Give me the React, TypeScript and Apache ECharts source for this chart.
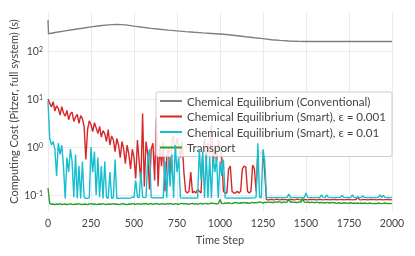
import React, { useEffect, useRef } from "react";
import * as echarts from "echarts";

const STEP = 10;
const yTickLabels: Record<string, string> = { "0.1": "-1", "1": "0", "10": "1", "100": "2" };

const seriesNames = [
  "Chemical Equilibrium (Conventional)",
  "Chemical Equilibrium (Smart), ε = 0.001",
  "Chemical Equilibrium (Smart), ε = 0.01",
  "Transport",
];
const colors = ["#7f7f7f", "#d62728", "#17becf", "#2ca02c"];

const conventional: [number, number][] = [
  [0, 443], [3, 229], [50, 245], [100, 262], [150, 280], [200, 298], [250, 318], [300, 335],
  [350, 350], [400, 358], [450, 350], [500, 330], [550, 312], [600, 296], [650, 283], [700, 272],
  [750, 262], [800, 253], [850, 245], [900, 238], [950, 232], [1000, 226], [1050, 218], [1100, 208],
  [1150, 198], [1200, 189], [1250, 181], [1300, 172], [1350, 166], [1400, 161], [1450, 159], [1500, 158],
  [1550, 158], [1600, 158], [1650, 158], [1700, 158], [1750, 158], [1800, 158], [1850, 158], [1900, 158],
  [1950, 158], [2000, 158],
];

const smart001 = [
  10, 8.2, 6.8, 8.8, 5.6, 7.2, 6.4, 4.6, 6.9, 5.1,
  4.4, 5.8, 3.7, 4.9, 5.3, 3.4, 4.2, 4.8, 3.1, 4.5,
  3.9, 2.7, 0.55, 2.3, 3.5, 2.9, 2.1, 3.2, 2.5, 1.9,
  2.7, 1.6, 2.2, 1.9, 1.3, 2.3, 1.1, 1.7, 1.4, 0.8,
  1.5, 1.1, 0.6, 1.3, 0.9, 0.45, 1.1, 0.7, 0.35, 0.9,
  0.6, 0.22, 1.4, 0.5, 0.18, 5.0, 0.15, 1.3, 0.7, 0.13,
  0.9, 1.2, 0.2, 4.0, 0.15, 1.1, 0.4, 1.3, 0.12, 0.6,
  1.0, 0.2, 1.4, 1.7, 0.7, 1.5, 1.1, 0.6, 1.3, 0.3,
  0.12, 0.11, 0.12, 0.3, 0.11, 0.12, 0.11, 0.13, 0.12, 0.11,
  0.9, 1.5, 0.5, 1.2, 0.6, 3.2, 0.4, 1.1, 0.5, 1.4,
  0.9, 0.6, 0.12, 0.11, 0.11, 0.35, 0.4, 0.12, 0.11, 0.11,
  0.12, 0.11, 0.12, 0.35, 0.4, 0.38, 0.12, 0.11, 0.12, 0.42,
  0.35, 0.12, 0.75, 0.85, 0.7, 0.85, 0.3, 0.08, 0.079, 0.08,
  0.081, 0.079, 0.08, 0.082, 0.08, 0.079, 0.081, 0.08, 0.08, 0.079,
  0.08, 0.081, 0.08, 0.079, 0.08, 0.082, 0.08, 0.079, 0.08, 0.081,
  0.08, 0.079, 0.08, 0.081, 0.08, 0.08, 0.079, 0.08, 0.081, 0.08,
  0.079, 0.08, 0.081, 0.08, 0.079, 0.08, 0.08, 0.081, 0.079, 0.08,
  0.08, 0.081, 0.079, 0.08, 0.08, 0.081, 0.08, 0.079, 0.08, 0.08,
  0.092, 0.08, 0.079, 0.081, 0.08, 0.08, 0.079, 0.08, 0.081, 0.08,
  0.08, 0.079, 0.08, 0.081, 0.08, 0.079, 0.08, 0.08, 0.081, 0.079,
  0.08,
];

const smart01 = [
  9, 1.5, 1.1, 1.3, 0.9, 0.25, 1.2, 0.7, 1.1, 0.4,
  0.085, 0.6, 0.3, 0.9, 0.5, 0.09, 0.7, 0.085, 0.4, 0.085,
  0.5, 0.09, 0.085, 0.085, 0.087, 1.0, 0.3, 0.8, 0.1, 0.6,
  0.09, 0.4, 0.085, 0.5, 0.09, 0.085, 0.3, 0.085, 0.087, 0.55,
  0.085, 0.086, 0.085, 0.087, 0.085, 0.086, 0.087, 0.085, 0.086, 0.09,
  0.09, 0.2, 0.09, 0.088, 0.3, 0.09, 0.088, 0.09, 0.6, 0.9,
  0.088, 0.087, 0.088, 0.087, 0.088, 0.087, 0.088, 0.087, 0.5, 0.088,
  0.6, 0.15, 0.7, 0.087, 1.1, 0.3, 0.6, 0.087, 0.086, 0.087,
  0.086, 0.087, 0.086, 0.087, 0.086, 0.087, 0.086, 0.087, 0.9, 0.2,
  0.8, 0.087, 0.7, 0.087, 0.6, 0.087, 0.65, 0.3, 0.6, 0.087,
  0.5, 0.25, 0.55, 0.087, 0.086, 0.087, 0.086, 0.087, 0.086, 0.087,
  0.086, 0.087, 0.086, 0.087, 0.086, 0.087, 0.086, 0.087, 0.086, 0.087,
  0.087, 0.09, 1.2, 0.09, 0.087, 0.9, 0.5, 0.09, 0.089, 0.088,
  0.089, 0.088, 0.089, 0.088, 0.089, 0.088, 0.089, 0.088, 0.089, 0.088,
  0.105, 0.089, 0.088, 0.089, 0.088, 0.089, 0.088, 0.089, 0.088, 0.089,
  0.11, 0.089, 0.088, 0.089, 0.088, 0.089, 0.088, 0.089, 0.088, 0.1,
  0.089, 0.088, 0.1, 0.089, 0.088, 0.089, 0.088, 0.089, 0.088, 0.089,
  0.089, 0.098, 0.089, 0.088, 0.089, 0.088, 0.089, 0.1, 0.089, 0.088,
  0.089, 0.088, 0.089, 0.095, 0.089, 0.088, 0.089, 0.088, 0.089, 0.088,
  0.089, 0.088, 0.089, 0.1, 0.089, 0.098, 0.089, 0.088, 0.089, 0.088,
  0.089,
];

const transport = [
  0.14, 0.066, 0.064, 0.065, 0.063, 0.065, 0.064, 0.066, 0.063, 0.064,
  0.065, 0.063, 0.064, 0.066, 0.064, 0.063, 0.065, 0.064, 0.066, 0.064,
  0.063, 0.065, 0.064, 0.063, 0.065, 0.066, 0.064, 0.065, 0.063, 0.064,
  0.065, 0.064, 0.066, 0.064, 0.063, 0.065, 0.064, 0.065, 0.066, 0.064,
  0.065, 0.063, 0.064, 0.066, 0.065, 0.064, 0.063, 0.065, 0.064, 0.066,
  0.065, 0.064, 0.066, 0.065, 0.064, 0.066, 0.065, 0.067, 0.064, 0.065,
  0.066, 0.064, 0.065, 0.067, 0.065, 0.064, 0.066, 0.065, 0.064, 0.066,
  0.065, 0.067, 0.065, 0.064, 0.066, 0.065, 0.064, 0.066, 0.067, 0.065,
  0.066, 0.065, 0.064, 0.066, 0.067, 0.065, 0.066, 0.064, 0.066, 0.067,
  0.065, 0.066, 0.067, 0.065, 0.066, 0.068, 0.066, 0.067, 0.065, 0.066,
  0.08, 0.067, 0.066, 0.068, 0.067, 0.069, 0.067, 0.066, 0.068, 0.07,
  0.068, 0.067, 0.069, 0.068, 0.07, 0.068, 0.069, 0.067, 0.069, 0.07,
  0.068, 0.07, 0.069, 0.072, 0.07, 0.068, 0.071, 0.069, 0.072, 0.07,
  0.071, 0.069, 0.072, 0.07, 0.073, 0.071, 0.069, 0.072, 0.07, 0.071,
  0.082, 0.07, 0.072, 0.07, 0.071, 0.069, 0.072, 0.07, 0.085, 0.071,
  0.07, 0.072, 0.069, 0.071, 0.07, 0.069, 0.071, 0.07, 0.068, 0.07,
  0.069, 0.068, 0.07, 0.069, 0.068, 0.07, 0.069, 0.068, 0.067, 0.069,
  0.068, 0.067, 0.069, 0.068, 0.067, 0.068, 0.069, 0.067, 0.068, 0.067,
  0.068, 0.067, 0.068, 0.066, 0.068, 0.067, 0.066, 0.068, 0.067, 0.066,
  0.067, 0.066, 0.068, 0.067, 0.066, 0.067, 0.068, 0.066, 0.067, 0.066,
  0.067,
];

const toPairs = (vals: number[]) => vals.map((v, i) => [i * STEP, v]);

const FONT = "Lato";
const TEXT = "#444";

export default function App() {
  const ref = useRef<HTMLDivElement>(null);
  useEffect(() => {
    if (!ref.current) return;
    const chart = echarts.init(ref.current, undefined, { renderer: "svg" });
    const data = [conventional, toPairs(smart001), toPairs(smart01), toPairs(transport)];
    chart.setOption({
      animation: false,
      textStyle: { fontFamily: FONT, color: TEXT },
      grid: { left: 48, right: 23, top: 12, bottom: 45, outerBoundsMode: "none", containLabel: false },
      legend: {
        orient: "vertical",
        left: 156,
        top: 92,
        align: "left",
        icon: "rect",
        itemWidth: 22,
        itemHeight: 2,
        itemGap: 3.5,
        padding: [3, 6, 3, 4],
        backgroundColor: "rgba(255,255,255,0.85)",
        borderColor: "#cccccc",
        borderWidth: 1,
        borderRadius: 2,
        textStyle: { fontFamily: FONT, fontSize: 11.6, color: TEXT, lineHeight: 12 },
        data: seriesNames,
      },
      xAxis: {
        type: "value",
        min: 0,
        max: 2000,
        interval: 250,
        name: "Time Step",
        nameLocation: "middle",
        nameGap: 23,
        nameMoveOverlap: false,
        nameTextStyle: { fontFamily: FONT, fontSize: 11, color: TEXT },
        axisLine: { show: false },
        axisTick: { show: false },
        axisLabel: {
          fontFamily: FONT,
          fontSize: 10.5,
          color: TEXT,
          margin: 6,
          formatter: (v: number) => String(v),
        },
        splitLine: { show: true, lineStyle: { color: "#ebebeb", width: 1 } },
      },
      yAxis: {
        type: "log",
        logBase: 10,
        min: 0.0464,
        max: 649,
        name: "Computing Cost (Pitzer, full system) (s)",
        nameLocation: "middle",
        nameGap: 29,
        nameMoveOverlap: false,
        nameTextStyle: { fontFamily: FONT, fontSize: 11, color: TEXT },
        axisLine: { show: false },
        axisTick: { show: false },
        axisLabel: {
          showMinLabel: false,
          showMaxLabel: false,
          margin: 5,
          formatter: (v: number) => {
            const key = String(Math.round(v * 1000) / 1000);
            const e = yTickLabels[key];
            return e === undefined ? "" : `{b|10}{s|${e}}`;
          },
          rich: {
            b: { fontFamily: FONT, fontSize: 10.5, color: TEXT },
            s: { fontFamily: FONT, fontSize: 7, color: TEXT, verticalAlign: "top", lineHeight: 8 },
          },
        },
        splitLine: { show: true, showMinLine: false, showMaxLine: false, lineStyle: { color: "#ebebeb", width: 1 } },
      },
      series: seriesNames.map((name, i) => ({
        name,
        type: "line",
        data: data[i],
        showSymbol: false,
        symbol: "none",
        color: colors[i],
        lineStyle: { color: colors[i], width: 1.4 },
        z: 2 + i,
      })),
    });
    return () => chart.dispose();
  }, []);
  return <div ref={ref} style={{ position: "fixed", left: 0, top: 0, width: 415, height: 256 }} />;
}
